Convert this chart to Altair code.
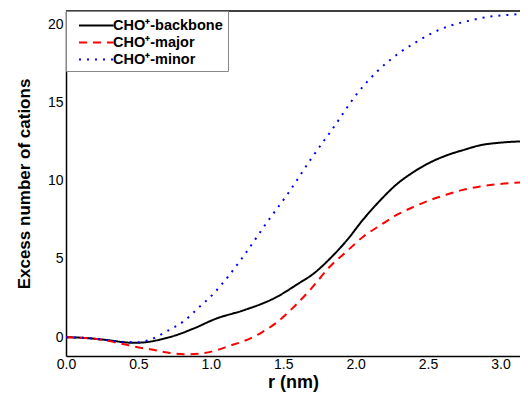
import altair as alt
import pandas as pd

series_names = ["CHO⁺-backbone", "CHO⁺-major", "CHO⁺-minor"]
series_colors = ["#000000", "#ff0000", "#0000ff"]
series_dashes = [[1, 0], [8, 6], [2, 6]]

r_backbone = [0, 0.1, 0.2, 0.3, 0.4, 0.46, 0.55, 0.65, 0.75, 0.88, 1.04, 1.22, 1.45, 1.6, 1.71,
              1.82, 1.94, 2.05, 2.17, 2.28, 2.40, 2.51, 2.63, 2.75, 2.86, 2.98, 3.1, 3.19]
v_backbone = [0, -0.03, -0.1, -0.2, -0.32, -0.36, -0.32, -0.15, 0.1, 0.55, 1.2, 1.7, 2.55, 3.4, 4.07,
              5.0, 6.2, 7.5, 8.75, 9.75, 10.56, 11.15, 11.63, 11.98, 12.27, 12.42, 12.5, 12.52]

r_major = [0, 0.1, 0.2, 0.3, 0.4, 0.5, 0.58, 0.7, 0.81, 0.92, 1.04, 1.13, 1.23, 1.35, 1.46, 1.58,
           1.69, 1.82, 1.94, 2.05, 2.17, 2.28, 2.40, 2.51, 2.63, 2.75, 2.86, 2.98, 3.1, 3.19]
v_major = [0, -0.03, -0.1, -0.25, -0.45, -0.65, -0.77, -0.98, -1.09, -1.05, -0.83, -0.55, -0.24, 0.3,
           0.98, 2.0, 3.07, 4.49, 5.5, 6.41, 7.15, 7.8, 8.33, 8.75, 9.12, 9.44, 9.64, 9.78, 9.87, 9.92]

r_minor = [0, 0.1, 0.2, 0.3, 0.4, 0.5, 0.57, 0.70, 0.81, 0.91, 1.02, 1.13, 1.23, 1.39, 1.54, 1.69,
           1.85, 2.01, 2.15, 2.31, 2.42, 2.53, 2.65, 2.78, 2.91, 3.05, 3.19]
v_minor = [0, -0.03, -0.1, -0.2, -0.3, -0.32, -0.19, 0.4, 1.0, 1.84, 2.8, 4.0, 5.24, 7.37, 9.28,
           11.37, 13.44, 15.57, 17.0, 18.23, 18.87, 19.45, 19.9, 20.22, 20.47, 20.6, 20.68]

x_ticks = [0.0, 0.5, 1.0, 1.5, 2.0, 2.5, 3.0]
y_ticks = [0, 5, 10, 15, 20]

rows = []
for name, rs, vs in zip(series_names, [r_backbone, r_major, r_minor], [v_backbone, v_major, v_minor]):
    for r, v in zip(rs, vs):
        rows.append({"series": name, "r": r, "v": v})
df = pd.DataFrame(rows)

font = "Liberation Sans"
W, H = 454, 345

lines = alt.Chart(df).mark_line(strokeWidth=2, interpolate="monotone", clip=True).encode(
    x=alt.X("r:Q", scale=alt.Scale(domain=[0, 3.135], nice=False, zero=False),
            axis=alt.Axis(title="r (nm)", values=x_ticks, format=".1f", ticks=False, grid=False,
                          labelFlush=False, labelFontSize=14, labelFont=font, labelColor="black",
                          labelPadding=1, titleFont=font, titleFontSize=18, titleFontWeight="bold",
                          titleColor="black", titlePadding=2, domain=True, domainColor="black",
                          domainWidth=1.5)),
    y=alt.Y("v:Q", scale=alt.Scale(domain=[-1.2, 20.85], nice=False, zero=False),
            axis=alt.Axis(title="Excess number of cations", values=y_ticks, format="d", ticks=False,
                          grid=False, labelFlush=False, labelFontSize=14, labelFont=font,
                          labelColor="black", labelPadding=3, titleFont=font, titleFontSize=17,
                          titleFontWeight="bold", titleColor="black", titlePadding=14, domain=True,
                          domainColor="black", domainWidth=1.5)),
    color=alt.Color("series:N", scale=alt.Scale(domain=series_names, range=series_colors),
                    legend=alt.Legend(title=None)),
    strokeDash=alt.StrokeDash("series:N", scale=alt.Scale(domain=series_names, range=series_dashes),
                              legend=alt.Legend(title=None)),
)

top_border = alt.Chart(pd.DataFrame({"k": [0]})).mark_rule(color="black", strokeWidth=1.5).encode(
    x=alt.value(0), x2=alt.value(W), y=alt.value(0)
)

chart = alt.layer(lines, top_border).properties(
    width=W, height=H,
    autosize=alt.AutoSizeParams(type="none"),
    padding={"left": 58, "top": 3, "right": 0, "bottom": 46},
).configure_view(
    stroke=None
).configure_legend(
    orient="none", legendX=0, legendY=0, strokeColor="#888888", fillColor="white",
    padding=5, symbolType="M-0.18,0H3.9", symbolSize=289, symbolStrokeWidth=2,
    labelFont=font, labelFontSize=14.5, labelFontWeight="bold", labelColor="black",
    rowPadding=1, labelOffset=23, cornerRadius=0,
)

chart.save("out.html", embed_options={"renderer": "svg", "actions": False})
